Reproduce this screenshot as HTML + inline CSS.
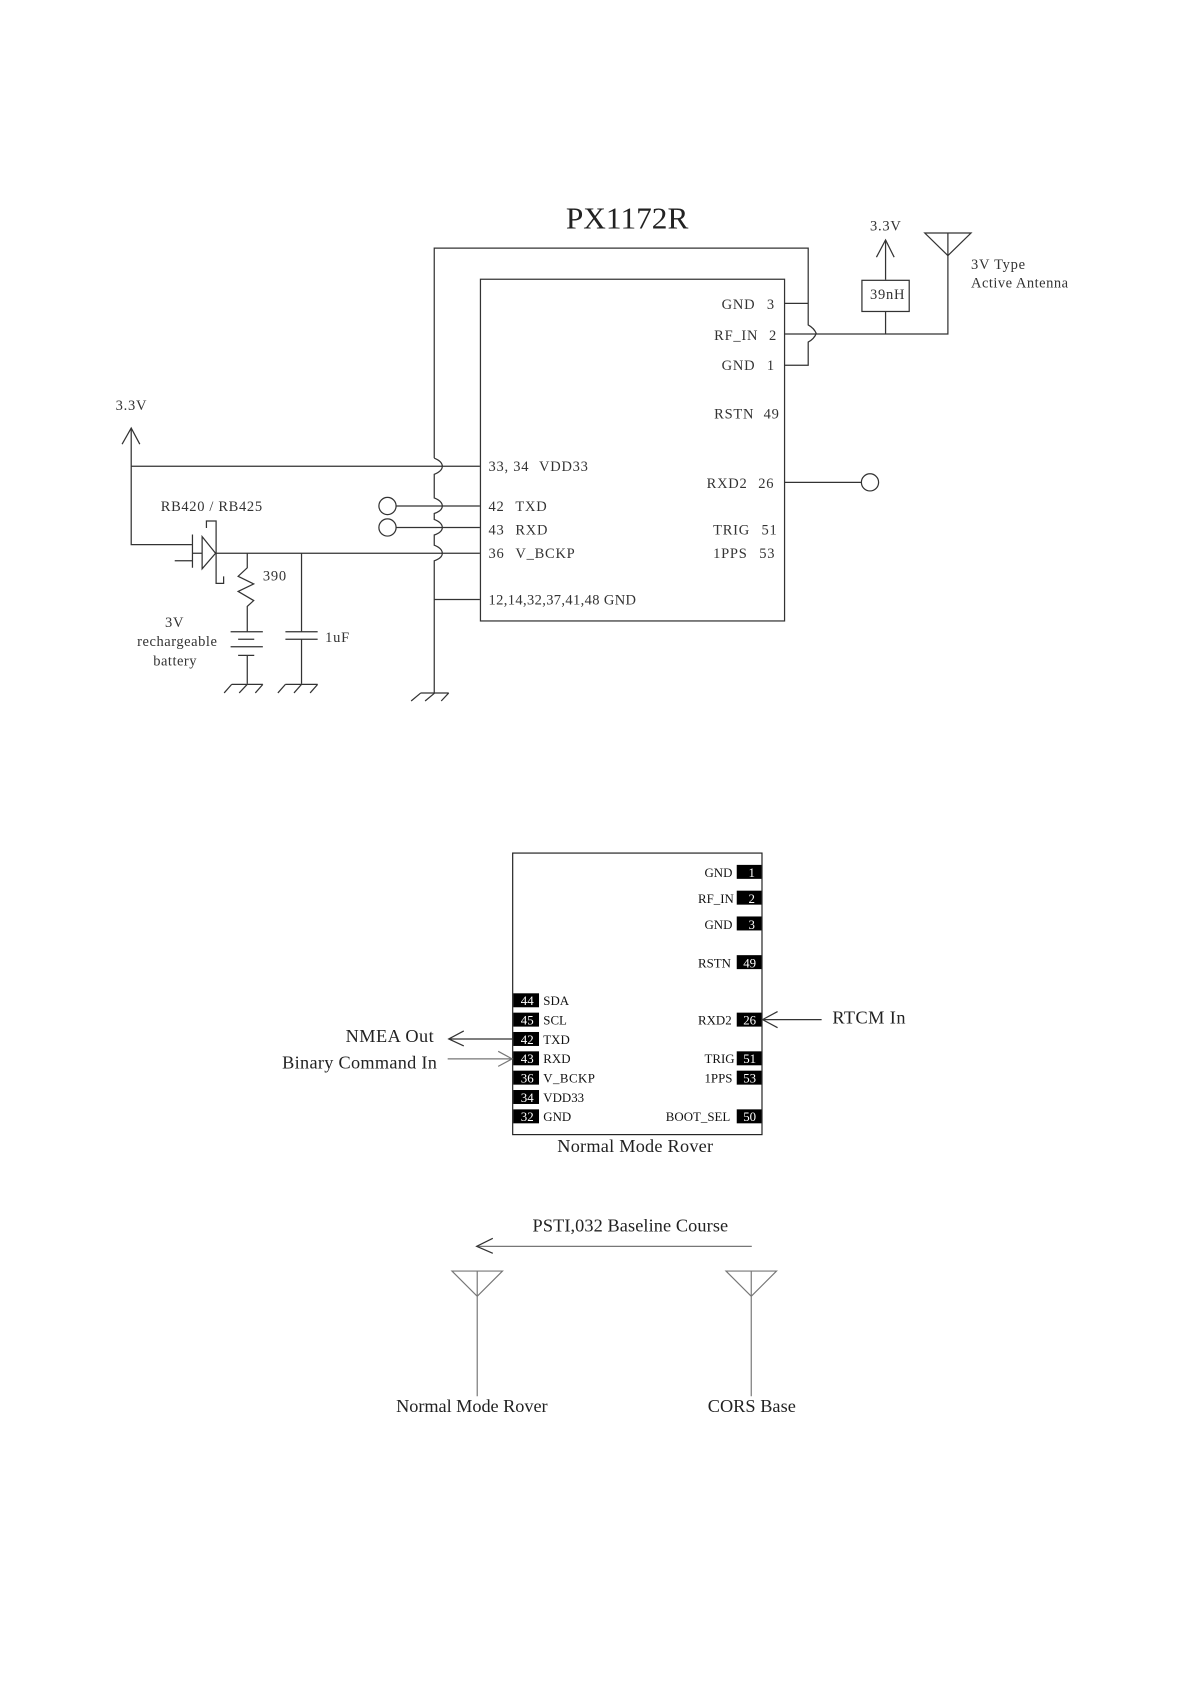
<!DOCTYPE html>
<html><head><meta charset="utf-8"><style>
html,body{margin:0;padding:0;background:#fff}
svg{display:block}
text{font-family:"Liberation Serif",serif;fill:#222}
.l{fill:none;stroke:#333;stroke-width:1.15}
.g{fill:none;stroke:#777;stroke-width:1.1}
.s{font-size:13.5px;letter-spacing:.7px;fill:#333}
.p{font-size:12px;fill:#111;font-weight:400}
.n{font-size:12px;fill:#fff;text-anchor:end}
.b{font-size:17px;fill:#222}
</style></head><body>
<svg xmlns="http://www.w3.org/2000/svg" width="1190" height="1684" viewBox="0.4 0.7 1107.4 1567">
<rect width="1110" height="1570" fill="#fff"/>
<text x="527" y="213.500" font-size="29" textLength="114" lengthAdjust="spacingAndGlyphs" style="fill:#222">PX1172R</text>

<!-- top schematic -->
<rect class="l" x="447.5" y="260.5" width="283" height="318"/>
<path class="l" d="M404.5 427V231.500H752.500V303Q758 306 760 311Q758 316 752.500 319V340.500H730.500M730.500 283H752.500M730.500 311.500H882.500V217.500"/>
<path class="l" d="M404.500 427Q412 430 412 434.500Q412 439 404.500 442V464Q412 467 412 471.500Q412 476 404.500 478.500V484Q412 487 412 491.500Q412 496 404.500 498.500V508Q412 511 412 515.500Q412 520 404.500 522.500V645.500"/>
<path class="l" d="M122.500 400V507.500H179M122.500 434.500H447M369 471.500H447M369 491.500H447M201 515.500H447M404.500 558.500H447"/>
<path class="l" d="M114 414L122.500 399L130.500 414M816 240L824.500 224L832.500 240"/>
<circle class="l" cx="361" cy="471.500" r="8"/><circle class="l" cx="361" cy="491.500" r="8"/>
<path class="l" d="M730 449.500H802"/><circle class="l" cx="810" cy="449.500" r="8"/>
<rect class="l" x="802.500" y="261.500" width="44" height="29"/>
<path class="l" d="M824.500 224V261M824.500 290V311M861 217.500H904L882.500 238.500Z"/>

<!-- diode -->
<path class="l" d="M179.500 498V529M163 522.500H179M179 515.500H188M188.500 500V530L201 515.500Z"/>
<path class="l" d="M192.500 492V485.500H201.500V543.500H208.500V537"/>
<!-- resistor + battery -->
<path class="l" d="M230.500 515.500V529L222 537L236.500 544L222 551L236.500 559.500L230.500 565V588M215 588.500H245M222 595.500H237M215 602.500H245M222 610.500H237M230.500 610V637"/>
<path class="l" d="M281 515.500V588M266 588.500H296M266 595.500H296M281 595.500V637"/>
<path class="l" d="M216 637.500H245M216 637.500L209 645.500M230.500 637.500L223 645.500M245 637.500L238 645.500"/>
<path class="l" d="M266 637.500H296M266 637.500L259 645.500M281 637.500L274 645.500M296 637.500L289 645.500"/>
<path class="l" d="M392 645.500H418M392 645.500L383 653M405 645.500L396 653M418 645.500L411 653"/>

<text class="s" x="108" y="382">3.3V</text>
<text class="s" x="150" y="476" textLength="95">RB420 / RB425</text>
<text class="s" x="245" y="541">390</text>
<text class="s" x="303" y="598">1uF</text>
<text class="s" x="154" y="584">3V</text>
<text class="s" x="128" y="602" textLength="75">rechargeable</text>
<text class="s" x="143" y="620" textLength="41">battery</text>
<text class="s" x="810" y="215">3.3V</text>
<text class="s" x="810" y="279">39nH</text>
<text class="s" x="904" y="251">3V Type</text>
<text class="s" x="904" y="268" textLength="91">Active Antenna</text>

<text class="s" x="455" y="439">33, 34</text><text class="s" x="502" y="439">VDD33</text>
<text class="s" x="455" y="476">42</text><text class="s" x="480" y="476">TXD</text>
<text class="s" x="455" y="498">43</text><text class="s" x="480" y="498">RXD</text>
<text class="s" x="455" y="520">36</text><text class="s" x="480" y="520">V_BCKP</text>
<text class="s" x="455" y="563" textLength="138">12,14,32,37,41,48 GND</text>

<text class="s" x="672" y="288">GND</text><text class="s" x="714" y="288">3</text>
<text class="s" x="665" y="317">RF_IN</text><text class="s" x="716" y="317">2</text>
<text class="s" x="672" y="345">GND</text><text class="s" x="714" y="345">1</text>
<text class="s" x="665" y="390">RSTN</text><text class="s" x="711" y="390">49</text>
<text class="s" x="658" y="455">RXD2</text><text class="s" x="706" y="455">26</text>
<text class="s" x="664" y="498">TRIG</text><text class="s" x="709" y="498">51</text>
<text class="s" x="664" y="520">1PPS</text><text class="s" x="707" y="520">53</text>

<!-- middle chip -->
<rect x="477.500" y="794.500" width="232" height="262" fill="none" stroke="#222" stroke-width="1.1"/>
<g fill="#000">
<rect x="478" y="925" width="24" height="13"/><rect x="478" y="943" width="24" height="13"/><rect x="478" y="961" width="24" height="13"/><rect x="478" y="979" width="24" height="13"/><rect x="478" y="997" width="24" height="13"/><rect x="478" y="1015" width="24" height="13"/><rect x="478" y="1033" width="24" height="13"/>
<rect x="686" y="805.500" width="23" height="13"/><rect x="686" y="829.500" width="23" height="13"/><rect x="686" y="853.500" width="23" height="13"/><rect x="686" y="889.500" width="23" height="13"/><rect x="686" y="943" width="23" height="13"/><rect x="686" y="979" width="23" height="13"/><rect x="686" y="997" width="23" height="13"/><rect x="686" y="1033" width="23" height="13"/>
</g>
<text class="n" x="497" y="936">44</text><text class="n" x="497" y="954">45</text><text class="n" x="497" y="972">42</text><text class="n" x="497" y="990">43</text><text class="n" x="497" y="1008">36</text><text class="n" x="497" y="1026">34</text><text class="n" x="497" y="1044">32</text>
<text class="n" x="703" y="817">1</text><text class="n" x="703" y="841">2</text><text class="n" x="703" y="865">3</text><text class="n" x="704" y="901">49</text><text class="n" x="704" y="954">26</text><text class="n" x="704" y="990">51</text><text class="n" x="704" y="1008">53</text><text class="n" x="704" y="1044">50</text>
<text class="p" x="506" y="936">SDA</text><text class="p" x="506" y="954">SCL</text><text class="p" x="506" y="972">TXD</text><text class="p" x="506" y="990">RXD</text><text class="p" x="506" y="1008" textLength="48">V_BCKP</text><text class="p" x="506" y="1026">VDD33</text><text class="p" x="506" y="1044">GND</text>
<text class="p" x="656" y="817">GND</text><text class="p" x="650" y="841">RF_IN</text><text class="p" x="656" y="865">GND</text><text class="p" x="650" y="901">RSTN</text><text class="p" x="650" y="954">RXD2</text><text class="p" x="656" y="990">TRIG</text><text class="p" x="656" y="1008">1PPS</text><text class="p" x="620" y="1044" textLength="60">BOOT_SEL</text>

<path class="l" d="M418 967.500H478M432 960L418 967.500L432 974"/>
<path class="g" d="M417 986H477M464 979L477 986L464 993"/>
<path class="l" d="M710 949.500H765M724 942L710 949.500L724 957"/>
<text class="b" x="322" y="970.500" textLength="82">NMEA Out</text>
<text class="b" x="263" y="995" textLength="144">Binary Command In</text>
<text class="b" x="775" y="953" textLength="68">RTCM In</text>
<text class="b" x="519" y="1072.500" textLength="145">Normal Mode Rover</text>

<!-- bottom -->
<text class="b" x="496" y="1146.700" textLength="182">PSTI,032 Baseline Course</text>
<path class="g" d="M444 1160.500H700" stroke="#aaa"/>
<path class="l" d="M459 1153L444 1160.500L459 1167" stroke-width=".9"/>
<path class="g" d="M421 1183.500H468L444.500 1207ZM444.500 1183V1300"/>
<path class="g" d="M676 1183.500H723L699.500 1207ZM699.500 1183V1300"/>
<text class="b" x="369" y="1314.700" textLength="141">Normal Mode Rover</text>
<text class="b" x="659" y="1314.700" textLength="82">CORS Base</text>
</svg>
</body></html>
